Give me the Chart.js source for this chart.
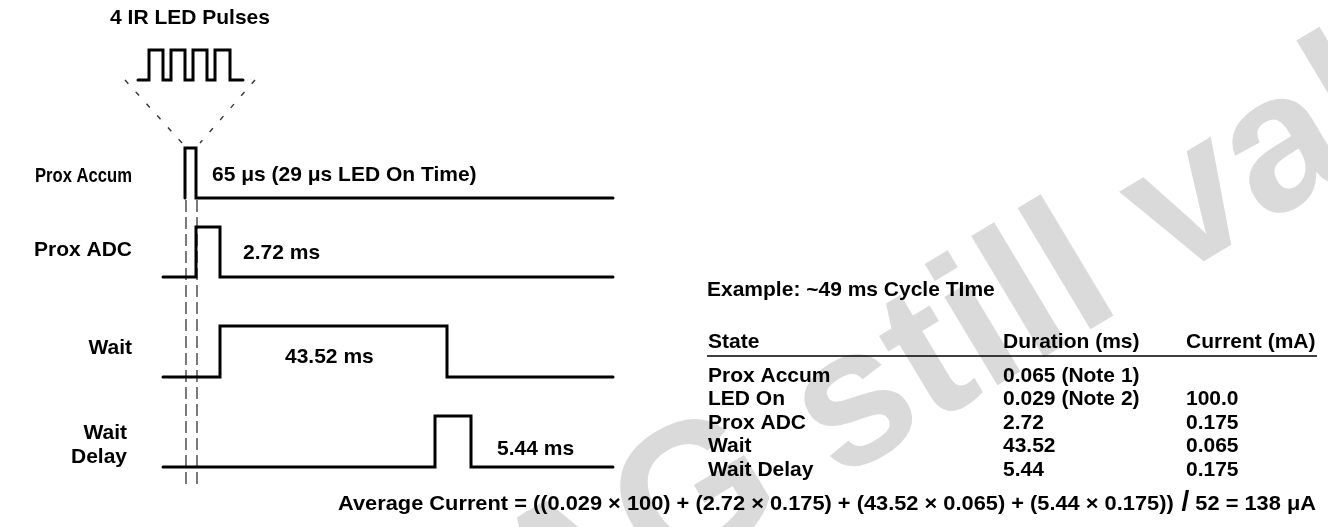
<!DOCTYPE html>
<html>
<head>
<meta charset="utf-8">
<title>Prox cycle timing</title>
<script src="https://cdn.jsdelivr.net/npm/chart.js@4.4.1/dist/chart.umd.min.js"></script>
<style>
  html, body { margin: 0; padding: 0; background: #fff; }
  #wrap { width: 1328px; height: 527px; position: relative; }
</style>
</head>
<body>
<div id="wrap"><canvas id="timing" width="1328" height="527"></canvas></div>
<script>
// Diagram space: x = drawing units along the time line, y = drawing units downward
const signalNames = ['Prox Accum', 'Prox ADC', 'Wait', 'Wait Delay'];
const laneLow  = [198, 277, 377, 467];
const laneHigh = [148, 227, 326, 416];

// edge positions and logic levels of each signal
const proxAccumT   = [185, 185, 196, 196, 613];
const proxAccumLvl = [0, 1, 1, 0, 0];
const proxAdcT     = [163, 196, 196, 220, 220, 613];
const proxAdcLvl   = [0, 0, 1, 1, 0, 0];
const waitT        = [163, 220, 220, 447, 447, 613];
const waitLvl      = [0, 0, 1, 1, 0, 0];
const waitDelayT   = [163, 435, 435, 471, 471, 613];
const waitDelayLvl = [0, 0, 1, 1, 0, 0];

// blown-up view of the 4 IR LED pulses
const ledPulseT   = [138, 149, 149, 163, 163, 171, 171, 185, 185, 193, 193, 207, 207, 215, 215, 230, 230, 243];
const ledPulseLvl = [0, 0, 1, 1, 0, 0, 1, 1, 0, 0, 1, 1, 0, 0, 1, 1, 0, 0];
const ledLow = 80, ledHigh = 50;

// dashed guide lines under the Prox Accum pulse, and the zoom fan
const markerT = [186, 197];
const markerSpan = [200, 487];
const fanLeftX = [125, 182], fanLeftY = [80, 143];
const fanRightX = [255, 200], fanRightY = [80, 143];

const durationLabels = ['65 μs (29 μs LED On Time)', '2.72 ms', '43.52 ms', '5.44 ms'];

// example table
const tableTitle     = 'Example: ~49 ms Cycle TIme';
const tableHeaders   = ['State', 'Duration (ms)', 'Current (mA)'];
const tableStates    = ['Prox Accum', 'LED On', 'Prox ADC', 'Wait', 'Wait Delay'];
const tableDurations = ['0.065 (Note 1)', '0.029 (Note 2)', '2.72', '43.52', '5.44'];
const tableCurrents  = ['', '100.0', '0.175', '0.065', '0.175'];
const tableRuleX = [707, 1317], tableRuleY = 356;

const formulaLeft  = 'Average Current = ((0.029 × 100) + (2.72 × 0.175) + (43.52 × 0.065) + (5.44 × 0.175))';
const formulaRight = ' 52 = 138 μA';

const FONT = '"Liberation Sans", Arial, Helvetica, sans-serif';

function wave(ts, lvls, low, high) {
    return ts.map((t, i) => ({ x: t, y: lvls[i] ? high : low }));
}

const solid = { borderColor: '#000', borderWidth: 3, borderJoinStyle: 'miter', borderCapStyle: 'round' };
const thin  = { borderColor: '#333', borderWidth: 1.3, borderDash: [12, 5] };
const dots  = { borderColor: '#333', borderWidth: 1.4, borderDash: [5, 11] };

const datasets = [
    { data: wave(proxAccumT, proxAccumLvl, laneLow[0], laneHigh[0]), ...solid },
    { data: wave(proxAdcT, proxAdcLvl, laneLow[1], laneHigh[1]), ...solid },
    { data: wave(waitT, waitLvl, laneLow[2], laneHigh[2]), ...solid },
    { data: wave(waitDelayT, waitDelayLvl, laneLow[3], laneHigh[3]), ...solid },
    { data: wave(ledPulseT, ledPulseLvl, ledLow, ledHigh), ...solid },
    ...markerT.map(t => ({ data: markerSpan.map(y => ({ x: t, y })), ...thin })),
    { data: fanLeftX.map((x, i) => ({ x, y: fanLeftY[i] })), ...dots },
    { data: fanRightX.map((x, i) => ({ x, y: fanRightY[i] })), ...dots },
    { data: tableRuleX.map(x => ({ x, y: tableRuleY })), borderColor: '#000', borderWidth: 1.5 }
];
datasets.forEach(d => { d.showLine = true; d.pointRadius = 0; d.fill = false; d.clip = false; });

// Watermark behind everything
const watermark = {
    id: 'watermark',
    beforeDatasetsDraw(chart) {
        const ctx = chart.ctx;
        ctx.save();
        ctx.fillStyle = '#dadada';
        ctx.font = 'bold 195px ' + FONT;
        ctx.translate(540, 660);
        ctx.rotate(-31 * Math.PI / 180);
        ctx.textBaseline = 'alphabetic';
        ctx.fillText('AG still valid', 0, 0);
        ctx.restore();
    }
};

// All the text of the figure
const labels = {
    id: 'labels',
    afterDatasetsDraw(chart) {
        const ctx = chart.ctx;
        const sx = chart.scales.x, sy = chart.scales.y;
        // width (optional) squeezes or stretches the string to that many units
        const put = (s, x, y, align, size, width) => {
            ctx.font = 'bold ' + (size || 21) + 'px ' + FONT;
            const px = sx.getPixelForValue(x), py = sy.getPixelForValue(y);
            if (!width) {
                ctx.textAlign = align || 'left';
                ctx.fillText(s, px, py);
                return;
            }
            const k = width / ctx.measureText(s).width;
            ctx.save();
            ctx.textAlign = align || 'left';
            ctx.translate(px, py);
            ctx.scale(k, 1);
            ctx.fillText(s, 0, 0);
            ctx.restore();
        };
        ctx.save();
        ctx.fillStyle = '#000';
        ctx.textBaseline = 'middle';

        put('4 IR LED Pulses', 190, 18, 'center');

        // signal names
        put(signalNames[0], 132, 176, 'right', 21, 97);
        put(signalNames[1], 132, 250, 'right');
        put(signalNames[2], 132, 348, 'right');
        const wd = signalNames[3].split(' ');
        put(wd[0], 127, 433, 'right');
        put(wd[1], 127, 457, 'right');

        // durations on the waveforms
        put(durationLabels[0], 212, 175);
        put(durationLabels[1], 243, 253);
        put(durationLabels[2], 285, 357);
        put(durationLabels[3], 497, 449);

        // table
        put(tableTitle, 707, 290);
        const cols = [708, 1003, 1186];
        tableHeaders.forEach((h, i) => put(h, cols[i], 342));
        const rowY = [376, 399.5, 423, 446.5, 470];
        tableStates.forEach((s, i) => {
            put(s, cols[0], rowY[i]);
            put(tableDurations[i], cols[1], rowY[i]);
            if (tableCurrents[i]) put(tableCurrents[i], cols[2], rowY[i]);
        });

        // average current formula spread over 338..1316, with a taller slash
        ctx.font = 'bold 21px ' + FONT;
        const wl = ctx.measureText(formulaLeft).width;
        const wr = ctx.measureText(formulaRight).width;
        ctx.font = 'bold 27px ' + FONT;
        const ws = ctx.measureText(' /').width;
        const startX = 338, endX = 1316;
        const k = (endX - startX) / (wl + ws + wr);
        put(formulaLeft, startX, 504, 'left', 21, wl * k);
        put(' /', startX + wl * k, 503, 'left', 27, ws * k);
        put(formulaRight, startX + (wl + ws) * k, 504, 'left', 21, wr * k);
        ctx.restore();
    }
};

new Chart(document.getElementById('timing'), {
    type: 'scatter',
    data: { datasets },
    options: {
        responsive: false,
        animation: false,
        devicePixelRatio: 1,
        layout: { padding: 0 },
        plugins: { legend: { display: false }, tooltip: { enabled: false } },
        scales: {
            x: { type: 'linear', min: 0, max: 1328, display: false },
            y: { type: 'linear', min: 0, max: 527, reverse: true, display: false }
        }
    },
    plugins: [watermark, labels]
});
</script>
</body>
</html>
